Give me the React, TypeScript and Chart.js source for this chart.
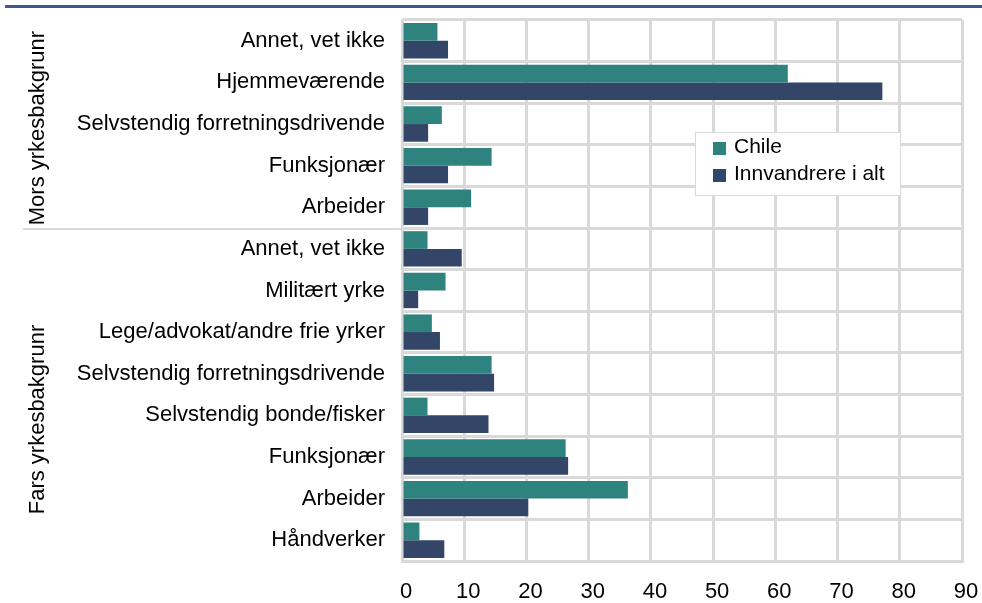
import React, { useEffect, useRef } from "react";
import { Chart, registerables } from "chart.js";

Chart.register(...registerables);

const categories = [
  "Annet, vet ikke",
  "Hjemmeværende",
  "Selvstendig forretningsdrivende",
  "Funksjonær",
  "Arbeider",
  "Annet, vet ikke",
  "Militært yrke",
  "Lege/advokat/andre frie yrker",
  "Selvstendig forretningsdrivende",
  "Selvstendig bonde/fisker",
  "Funksjonær",
  "Arbeider",
  "Håndverker",
];
const chileValues = [5.7, 62.0, 6.4, 14.4, 11.1, 4.1, 7.0, 4.8, 14.4, 4.1, 26.3, 36.3, 2.8];
const innvandrereValues = [7.4, 77.2, 4.2, 7.4, 4.2, 9.6, 2.6, 6.1, 14.8, 13.9, 26.7, 20.3, 6.8];
const seriesNames = ["Chile", "Innvandrere i alt"];
const groupLabels = ["Mors yrkesbakgrunr", "Fars yrkesbakgrunr"];
const groupSizes = [5, 8];
const xTicks = [0, 10, 20, 30, 40, 50, 60, 70, 80, 90];

const FONT = "'Liberation Sans', Arial, sans-serif";
const GRID = "#d9d9d9";
const COLORS = ["#2E837F", "#344668"];

const decorPlugin = {
  id: "decor",
  beforeDraw(chart: any) {
    const ctx = chart.ctx;
    ctx.save();
    ctx.fillStyle = "#ffffff";
    ctx.fillRect(0, 0, chart.width, chart.height);
    ctx.restore();
  },
  afterDraw(chart: any) {
    const ctx = chart.ctx;
    const y = chart.scales.y;
    const area = chart.chartArea;
    ctx.save();
    // top rule
    ctx.strokeStyle = "#3B5A8C";
    ctx.lineWidth = 3;
    ctx.beginPath();
    ctx.moveTo(5, 6.5);
    ctx.lineTo(chart.width, 6.5);
    ctx.stroke();

    // group separators and labels
    let start = 0;
    const offsets = [4, 25];
    const step = y.getPixelForValue(1) - y.getPixelForValue(0);
    groupSizes.forEach((size, gi) => {
      const end = start + size - 1;
      const topPx = y.getPixelForValue(start) - step / 2;
      const botPx = y.getPixelForValue(end) + step / 2;
      if (gi < groupSizes.length - 1) {
        ctx.strokeStyle = GRID;
        ctx.lineWidth = 2;
        ctx.beginPath();
        ctx.moveTo(23, botPx + 1);
        ctx.lineTo(area.left, botPx + 1);
        ctx.stroke();
      }
      const cy = (topPx + botPx) / 2 + offsets[gi];
      ctx.save();
      ctx.translate(43.5, cy);
      ctx.rotate(-Math.PI / 2);
      ctx.fillStyle = "#000";
      ctx.font = `22px ${FONT}`;
      ctx.textAlign = "center";
      ctx.textBaseline = "alphabetic";
      ctx.fillText(groupLabels[gi], 0, 0);
      ctx.restore();
      start += size;
    });

    // legend
    const lx = area.left + 293;
    const ly = 132;
    const lw = 205;
    const lh = 63;
    ctx.fillStyle = "#ffffff";
    ctx.fillRect(lx, ly, lw, lh);
    ctx.strokeStyle = GRID;
    ctx.lineWidth = 1;
    ctx.strokeRect(lx + 0.5, ly + 0.5, lw, lh);
    ctx.font = `21px ${FONT}`;
    ctx.textAlign = "left";
    ctx.textBaseline = "middle";
    chart.data.datasets.forEach((ds: any, i: number) => {
      const cy = ly + 16 + i * 27;
      ctx.fillStyle = ds.backgroundColor;
      ctx.fillRect(lx + 18, cy - 6, 13, 13);
      ctx.fillStyle = "#000";
      ctx.fillText(ds.label, lx + 39, cy - 1);
    });
    ctx.restore();
  },
};

export default function App() {
  const ref = useRef<HTMLCanvasElement | null>(null);
  useEffect(() => {
    if (!ref.current) return;
    const chart = new Chart(ref.current, {
      type: "bar",
      data: {
        labels: categories,
        datasets: [
          { label: seriesNames[0], data: chileValues, backgroundColor: COLORS[0] },
          { label: seriesNames[1], data: innvandrereValues, backgroundColor: COLORS[1] },
        ],
      },
      options: {
        indexAxis: "y",
        animation: false,
        responsive: false,
        layout: { padding: { top: 20, right: 20, left: 0, bottom: 0 } },
        datasets: { bar: { categoryPercentage: 0.85, barPercentage: 1.0 } },
        plugins: { legend: { display: false }, tooltip: { enabled: false } },
        scales: {
          x: {
            type: "linear",
            min: xTicks[0],
            max: xTicks[xTicks.length - 1],
            afterBuildTicks: (s: any) => {
              s.ticks = xTicks.map((v) => ({ value: v }));
            },
            afterFit: (s: any) => {
              s.height = 42;
              s.paddingLeft = 0;
              s.paddingRight = 0;
            },
            grid: { color: GRID, lineWidth: 3, drawTicks: false },
            border: { display: true, color: GRID, width: 3 },
            ticks: {
              padding: 18,
              labelOffset: 4,
              color: "#000",
              font: { family: FONT, size: 22 },
            },
          },
          y: {
            type: "category",
            afterFit: (s: any) => {
              s.width = 402;
              s.paddingTop = 0;
              s.paddingBottom = 0;
            },
            grid: { color: GRID, lineWidth: 3, drawTicks: false, offset: true },
            border: { display: true, color: GRID, width: 2 },
            ticks: {
              padding: 17,
              color: "#000",
              autoSkip: false,
              font: { family: FONT, size: 22 },
            },
          },
        },
      },
      plugins: [decorPlugin],
    } as any);
    return () => chart.destroy();
  }, []);
  return (
    <div style={{ position: "absolute", left: 0, top: 0, width: 982, height: 603 }}>
      <canvas ref={ref} width={982} height={603} />
    </div>
  );
}
